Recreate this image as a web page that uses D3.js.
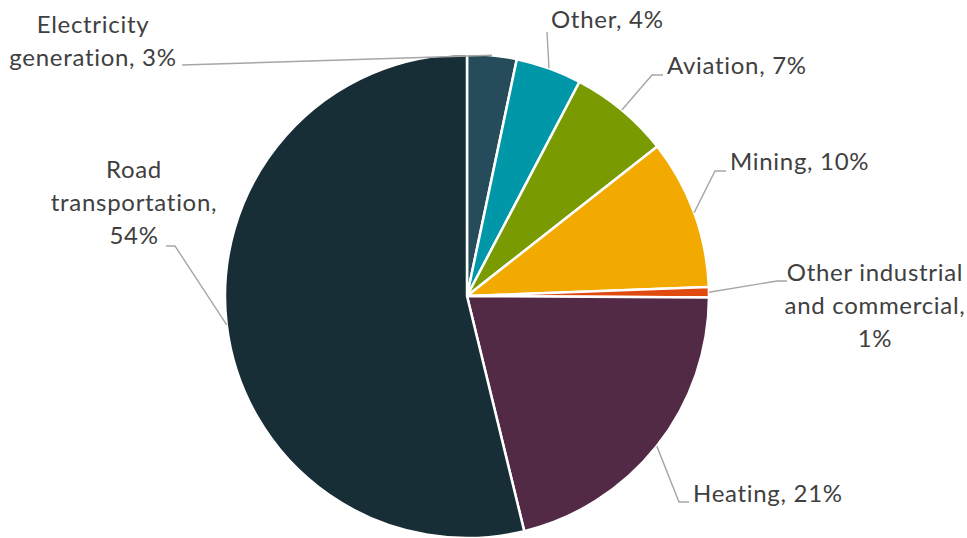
<!DOCTYPE html>
<html>
<head>
<meta charset="utf-8">
<script src="https://cdn.jsdelivr.net/npm/d3@7"></script>
<style>
  html, body { margin: 0; padding: 0; background: #fff; }
  svg { display: block; }
  text { font-family: Lato, "Open Sans", sans-serif; fill: #404040; letter-spacing: 0.7px; }
</style>
</head>
<body>
<svg id="chart" width="967" height="538"></svg>
<script>
// ---- data ----
const categories = ["Electricity generation", "Other", "Aviation", "Mining",
                    "Other industrial and commercial", "Heating", "Road transportation"];
const shares = [3.3, 4.4, 6.7, 10.0, 0.7, 21.1, 53.8];
const colors = ["#264b5a", "#0097a9", "#7a9a01", "#f2a900", "#e04a10", "#532a46", "#172e37"];
// label text lines (rounded percentages appended)
const labelLines = [
  ["Electricity", "generation, {p}"],
  ["Other, {p}"],
  ["Aviation, {p}"],
  ["Mining, {p}"],
  ["Other industrial", "and commercial,", "{p}"],
  ["Heating, {p}"],
  ["Road", "transportation,", "{p}"]
];

// ---- layout (positions only) ----
const cx = 467, cy = 296, R = 242;
const fontSize = 24, lineGap = 33;
const labelLayout = [
  { x: 93,  y: 33,  anchor: "middle", path: [[182, 65]] },
  { x: 551, y: 28,  anchor: "start",  path: [[547, 32]] },
  { x: 667, y: 74,  anchor: "start",  path: [[652, 75], [663, 75]] },
  { x: 730, y: 170, anchor: "start",  path: [[715, 171], [726, 171]] },
  { x: 875, y: 281, anchor: "middle", path: [[777, 281], [787, 281]] },
  { x: 693, y: 502, anchor: "start",  path: [[679, 502], [689, 502]] },
  { x: 134, y: 178, anchor: "middle", path: [[175, 246], [166, 246]] }
];

const svg = d3.select("#chart");
const g = svg.append("g").attr("transform", `translate(${cx},${cy})`);

const data = categories.map((c, i) => ({ name: c, value: shares[i], i }));
const pie = d3.pie().value(d => d.value).sort(null);
const arcs = pie(data);
const arc = d3.arc().innerRadius(0).outerRadius(R);
const edgeArc = d3.arc().innerRadius(R).outerRadius(R);

g.selectAll("path.slice").data(arcs).enter().append("path")
  .attr("class", "slice")
  .attr("d", arc)
  .attr("fill", d => colors[d.data.i])
  .attr("stroke", "#fff")
  .attr("stroke-width", 2.5)
  .attr("stroke-linejoin", "round");

// leader lines
const line = d3.line();
arcs.forEach(d => {
  const c = edgeArc.centroid(d);
  const start = [cx + c[0], cy + c[1]];
  const pts = [start].concat(labelLayout[d.data.i].path);
  svg.append("path")
    .attr("d", line(pts))
    .attr("fill", "none")
    .attr("stroke", "#a6a6a6")
    .attr("stroke-width", 1.4);
});

// labels
arcs.forEach(d => {
  const i = d.data.i;
  const L = labelLayout[i];
  const pct = Math.round(d.data.value) + "%";
  const t = svg.append("text")
    .attr("x", L.x).attr("y", L.y)
    .attr("text-anchor", L.anchor)
    .style("font-size", fontSize + "px");
  labelLines[i].forEach((ln, k) => {
    t.append("tspan").attr("x", L.x).attr("y", L.y + k * lineGap)
      .text(ln.replace("{p}", pct));
  });
});
</script>
</body>
</html>
